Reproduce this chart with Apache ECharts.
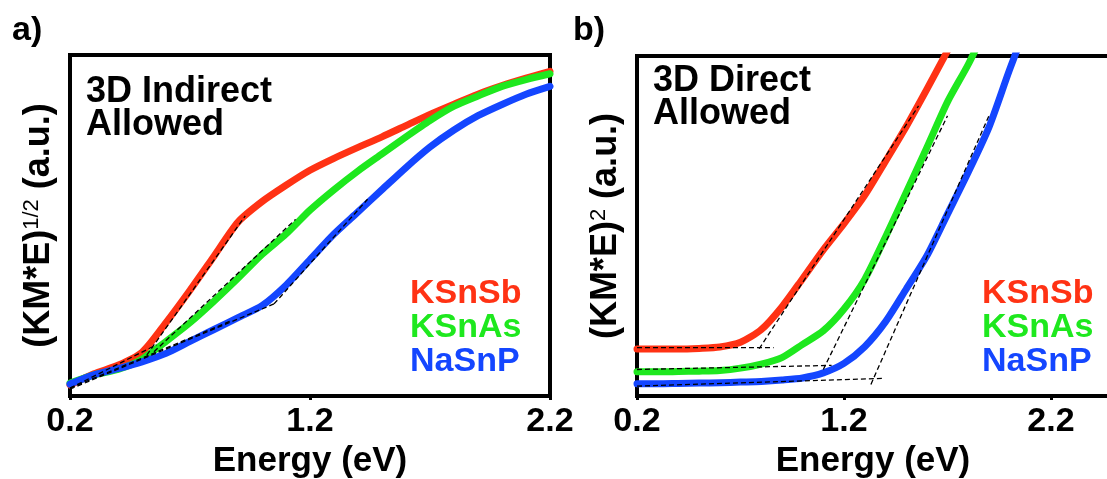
<!DOCTYPE html>
<html>
<head>
<meta charset="utf-8">
<script src="https://cdn.jsdelivr.net/npm/echarts@6/dist/echarts.min.js"></script>
<style>
  html, body { margin: 0; padding: 0; background: #fff; }
  #chart { width: 1107px; height: 479px; }
</style>
</head>
<body>
<div id="chart"></div>
<script>
// ---------- DATA ----------
const xTicks = [0.2, 1.2, 2.2];
const seriesNames = ['KSnSb', 'KSnAs', 'NaSnP'];

// Panel a) 3D indirect allowed, (KM*E)^1/2 (a.u.)
const energyA = [0.2, 0.3, 0.4, 0.5, 0.6, 0.7, 0.8, 0.9, 1.0, 1.1, 1.2, 1.3, 1.4, 1.5, 1.6, 1.7, 1.8, 1.9, 2.0, 2.1, 2.2];
const ksnsbA = [3.2, 6.5, 9.0, 12.8, 21.5, 31.0, 41.0, 51.0, 57.0, 61.8, 66.2, 69.7, 72.9, 76.0, 79.3, 82.6, 85.6, 88.5, 91.0, 93.2, 95.2];
const ksnasA = [3.8, 6.2, 7.8, 10.8, 16.0, 21.5, 27.8, 34.5, 41.5, 47.5, 54.5, 60.5, 66.0, 71.0, 76.0, 80.8, 85.0, 88.0, 90.8, 92.8, 94.5];
const nasnpA = [3.5, 6.2, 8.0, 10.0, 12.5, 16.0, 19.5, 23.0, 26.5, 32.5, 40.0, 47.5, 54.0, 60.5, 67.0, 73.0, 78.0, 82.2, 85.5, 88.5, 90.8];

// Panel a) tangent fits [[x1,y1],[x2,y2]]
const fitA_KSnSb_base = [[0.2, 2.3], [0.56, 15.0]];
const fitA_KSnSb_edge = [[0.52, 12.0], [0.93, 52.8]];
const fitA_KSnAs_base = [[0.2, 2.3], [0.87, 22.0]];
const fitA_KSnAs_edge = [[0.55, 13.0], [1.14, 51.8]];
const fitA_NaSnP_base = [[0.2, 2.0], [1.05, 27.0]];
const fitA_NaSnP_edge = [[1.05, 27.0], [1.44, 57.7]];

// Panel b) 3D direct allowed, (KM*E)^2 (a.u.)
const energyB = [0.2, 0.3, 0.4, 0.5, 0.6, 0.7, 0.8, 0.9, 1.0, 1.1, 1.2, 1.3, 1.4, 1.5, 1.6, 1.7, 1.8, 1.9, 2.0, 2.1];
const ksnsbB = [13.8, 13.8, 13.8, 14.0, 14.4, 15.8, 19.5, 26.2, 34.5, 43.0, 50.7, 59.0, 69.0, 79.2, 90.2, 101.5, null, null, null, null];
const ksnasB = [7.1, 7.1, 7.2, 7.3, 7.5, 8.2, 9.4, 11.3, 15.2, 19.2, 25.6, 34.3, 46.7, 59.8, 73.0, 86.5, 97.5, 110.0, null, null];
const nasnpB = [3.6, 3.6, 3.7, 3.8, 3.9, 4.1, 4.3, 4.7, 5.3, 6.8, 9.6, 14.5, 21.8, 31.4, 41.2, 53.5, 65.8, 79.0, 96.0, 112.0];

// Panel b) tangent fits
const fitB_KSnSb_base = [[0.2, 14.2], [0.86, 14.2]];
const fitB_KSnSb_edge = [[0.79, 13.9], [1.56, 85.3]];
const fitB_KSnAs_base = [[0.2, 7.8], [1.14, 9.0]];
const fitB_KSnAs_edge = [[1.10, 7.8], [1.70, 82.4]];
const fitB_NaSnP_base = [[0.2, 2.9], [1.39, 5.2]];
const fitB_NaSnP_edge = [[1.33, 3.4], [1.90, 82.4]];

// ---------- STYLE ----------
const FONT = "'Liberation Sans', Arial, sans-serif";
const colors = { KSnSb: '#ff3214', KSnAs: '#1ee81e', NaSnP: '#1446ff' };

function pairs(xs, ys) { return xs.map((x, i) => [x, ys[i]]); }

function curve(name, idx, xs, ys) {
  return {
    name: name, type: 'line', xAxisIndex: idx, yAxisIndex: idx,
    data: pairs(xs, ys), showSymbol: false, smooth: 0.25,
    connectNulls: false, clip: true,
    lineStyle: { width: 7, color: colors[name], cap: 'round', join: 'round' }, itemStyle: { color: colors[name] },
    z: 2, silent: true
  };
}
function fit(name, idx, pts) {
  return {
    name: name + ' fit', type: 'line', xAxisIndex: idx, yAxisIndex: idx,
    data: pts, showSymbol: false, clip: true,
    lineStyle: { width: 1.3, color: '#000', type: [5, 3] },
    z: 5, silent: true
  };
}

function xAxisCfg(idx, max) {
  return {
    type: 'value', gridIndex: idx, min: 0.2, max: max,
    splitLine: { show: false },
    axisLine: { show: false },
    axisTick: { show: true, customValues: xTicks, length: 4, inside: false, lineStyle: { width: 3, color: '#000' } },
    axisLabel: { customValues: xTicks, formatter: v => v.toFixed(1), margin: 9,
      fontSize: 34, fontWeight: 'bold', color: '#000', fontFamily: FONT },
    name: 'Energy (eV)', nameLocation: 'middle', nameGap: 42,
    nameTextStyle: { fontSize: 35, fontWeight: 'bold', color: '#000', fontFamily: FONT }
  };
}
function yAxisCfg(idx, name) {
  return {
    type: 'value', gridIndex: idx, min: 0, max: 100,
    splitLine: { show: false }, axisLine: { show: false },
    axisTick: { show: false }, axisLabel: { show: false },
    name: name, nameLocation: 'middle', nameRotate: 90, nameGap: 12,
    nameTextStyle: { fontSize: 36, fontWeight: 'bold', color: '#000', fontFamily: FONT,
      rich: { sup: { fontSize: 22, fontWeight: 'normal', fontFamily: FONT, color: '#000', verticalAlign: 'top', padding: [0, 0, 15, 0] } } }
  };
}
function legendCfg(left, top) {
  return {
    left: left, top: top, orient: 'vertical', icon: 'none', itemWidth: 0, itemGap: 0,
    padding: 0, selectedMode: false,
    textStyle: { fontSize: 34, fontWeight: 'bold', fontFamily: FONT, lineHeight: 34 },
    data: seriesNames.map(n => ({ name: n, textStyle: { color: colors[n] } }))
  };
}

const option = {
  animation: false,
  backgroundColor: '#fff',
  grid: [
    { left: 70, top: 55, width: 480, height: 341, show: true, borderColor: '#000', borderWidth: 4, backgroundColor: 'transparent', outerBoundsMode: 'none', containLabel: false },
    { left: 637, top: 56, width: 472, height: 340, show: true, borderColor: '#000', borderWidth: 4, backgroundColor: 'transparent', outerBoundsMode: 'none', containLabel: false }
  ],
  xAxis: [xAxisCfg(0, 2.2), xAxisCfg(1, 0.2 + 472 / 207)],
  yAxis: [yAxisCfg(0, '(KM*E){sup|1/2} (a.u.)'), yAxisCfg(1, '(KM*E){sup|2} (a.u.)')],
  legend: [legendCfg(405, 277), legendCfg(977, 277)],
  graphic: [
    { type: 'text', left: 12, top: 14, style: { text: 'a)', fontSize: 34, fontWeight: 'bold', fontFamily: FONT, fill: '#000' } },
    { type: 'text', left: 573, top: 14, style: { text: 'b)', fontSize: 34, fontWeight: 'bold', fontFamily: FONT, fill: '#000' } },
    { type: 'text', left: 86, top: 74, style: { text: '3D Indirect\nAllowed', fontSize: 36, lineHeight: 33, fontWeight: 'bold', fontFamily: FONT, fill: '#000' } },
    { type: 'text', left: 653, top: 63, style: { text: '3D Direct\nAllowed', fontSize: 36, lineHeight: 33, fontWeight: 'bold', fontFamily: FONT, fill: '#000' } }
  ],
  series: [
    curve('KSnSb', 0, energyA, ksnsbA),
    curve('KSnAs', 0, energyA, ksnasA),
    curve('NaSnP', 0, energyA, nasnpA),
    fit('KSnSb', 0, fitA_KSnSb_base), fit('KSnSb', 0, fitA_KSnSb_edge),
    fit('KSnAs', 0, fitA_KSnAs_base), fit('KSnAs', 0, fitA_KSnAs_edge),
    fit('NaSnP', 0, fitA_NaSnP_base), fit('NaSnP', 0, fitA_NaSnP_edge),
    curve('KSnSb', 1, energyB, ksnsbB),
    curve('KSnAs', 1, energyB, ksnasB),
    curve('NaSnP', 1, energyB, nasnpB),
    fit('KSnSb', 1, fitB_KSnSb_base), fit('KSnSb', 1, fitB_KSnSb_edge),
    fit('KSnAs', 1, fitB_KSnAs_base), fit('KSnAs', 1, fitB_KSnAs_edge),
    fit('NaSnP', 1, fitB_NaSnP_base), fit('NaSnP', 1, fitB_NaSnP_edge)
  ]
};

const chart = echarts.init(document.getElementById('chart'), null, { renderer: 'canvas' });
chart.setOption(option);
</script>
</body>
</html>
